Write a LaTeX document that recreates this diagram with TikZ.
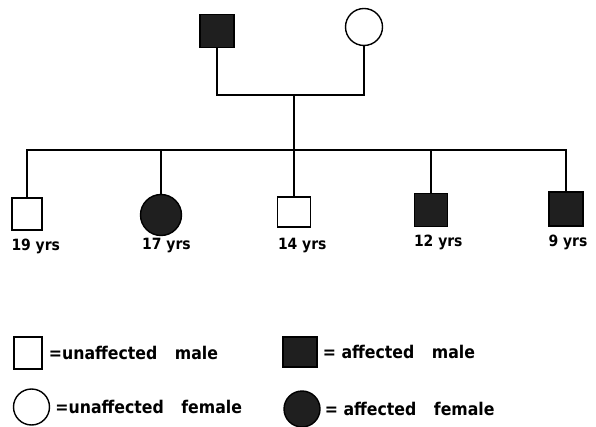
\documentclass[tikz,border=0pt]{standalone}
\usepackage{fontspec}
\setmainfont{DejaVu Sans Condensed}[BoldFont={DejaVu Sans Condensed Bold}]
\usetikzlibrary{positioning}

\tikzset{
  male/.style={draw, line width=1.4pt, minimum width=31pt, minimum height=31pt, inner sep=0pt},
  female/.style={draw, circle, line width=1.4pt, minimum size=37pt, inner sep=0pt},
  affected/.style={fill=black!88},
  age/.style={inner sep=0pt, font=\bfseries\fontsize{15.5}{18}\selectfont},
  key/.style={inner sep=0pt, font=\bfseries\fontsize{17.5}{20}\selectfont},
  line/.style={line width=1.5pt}
}

\begin{document}
\begin{tikzpicture}[x=1pt, y=-1pt]
\useasboundingbox (0,0) rectangle (596,427);
% parents
\node[male, affected, minimum width=34pt, minimum height=33pt] (FA) at (217,31) {};
\node[female] (MO) at (364,27) {};
\coordinate (MA) at (294,95);
\coordinate (SB) at (294,150);
% children
\node[male, minimum width=30pt, minimum height=32pt] (K1) at (27,214) {};
\node[female, affected, minimum size=41pt] (K2) at (161,215) {};
\node[male, minimum width=33pt, minimum height=30pt] (K3) at (294,212) {};
\node[male, affected, minimum width=33pt, minimum height=33pt] (K4) at (431,210) {};
\node[male, affected, minimum width=34pt, minimum height=34pt] (K5) at (566,209) {};
\node[age, below right=8pt and 0pt of K1.south west] (A1) {19 yrs};
\node[age, below right=2pt and -19pt of K2.south] (A2) {17 yrs};
\node[age, below right=10pt and 1pt of K3.south west] (A3) {14 yrs};
\node[age, below right=8pt and 0pt of K4.south west] (A4) {12 yrs};
\node[age, below right=8pt and 0pt of K5.south west] (A5) {9 yrs};
% lines of descent
\draw[line] (FA.south) |- (MA) -| (MO.south);
\draw[line] (MA) -- (SB);
\draw[line] (K1.north) |- (SB) -| (K5.north);
\draw[line] (K2.north) -- (K2.north |- SB);
\draw[line] (K3.north) -- (K3.north |- SB);
\draw[line] (K4.north) -- (K4.north |- SB);
% key
\node[male, minimum width=28pt, minimum height=32pt] (UM) at (28,353) {};
\node[key, right=6pt of UM] (UMt) {=unaffected\quad male};
\node[female, minimum size=36pt] (UF) at (31.5,407) {};
\node[key, right=5pt of UF] (UFt) {=unaffected\quad female};
\node[male, affected, minimum width=34pt, minimum height=30pt] (AM) at (300,352) {};
\node[key, right=5pt of AM] (AMt) {= affected\quad male};
\node[female, affected, minimum size=36pt] (AF) at (302,409) {};
\node[key, right=4pt of AF] (AFt) {= affected\quad female};
\end{tikzpicture}
\end{document}
